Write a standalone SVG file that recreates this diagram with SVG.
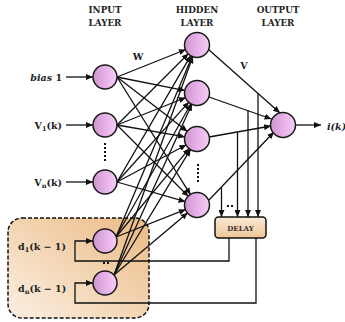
<svg xmlns="http://www.w3.org/2000/svg" width="345" height="322" viewBox="0 0 345 322">
  <defs>
    <linearGradient id="nodeFill" x1="0" y1="0" x2="1" y2="0">
      <stop offset="0" stop-color="#cf95d1"/>
      <stop offset="0.6" stop-color="#e9b6ea"/>
      <stop offset="1" stop-color="#f6cef6"/>
    </linearGradient>
    <linearGradient id="boxFill" x1="1" y1="0" x2="0" y2="1">
      <stop offset="0" stop-color="#ebbb85"/>
      <stop offset="0.5" stop-color="#f3d5b3"/>
      <stop offset="1" stop-color="#fbefe2"/>
    </linearGradient>
    <linearGradient id="delayFill" x1="0" y1="0" x2="0" y2="1">
      <stop offset="0" stop-color="#fae9d6"/>
      <stop offset="1" stop-color="#eec594"/>
    </linearGradient>
    <marker id="arrow" markerUnits="userSpaceOnUse" markerWidth="7" markerHeight="6" refX="7" refY="3" orient="auto">
      <path d="M0,0 L7,3 L0,6 z" fill="#111"/>
    </marker>
  </defs>
  <style>
    .node { fill: url(#nodeFill); stroke: #1a1a1a; stroke-width: 1.5; }
    .link { fill: none; stroke: #111; stroke-width: 1.3; marker-end: url(#arrow); }
    .head { font-family: "DejaVu Serif", "Liberation Serif", serif; font-weight: bold; font-size: 8.8px; fill: #222; text-anchor: middle; }
    .lbl { font-family: "DejaVu Serif", "Liberation Serif", serif; font-weight: bold; font-size: 9.5px; fill: #222; }
    .dot { fill: #111; }
  </style>

  <!-- feedback region -->
  <rect id="feedback-box" x="8" y="218" width="141" height="100" rx="14" fill="url(#boxFill)" stroke="#111" stroke-width="1.5" stroke-dasharray="4 2"/>

  <!-- layer headings -->
  <g id="headings">
    <text class="head" x="105" y="13">INPUT</text>
    <text class="head" x="105" y="26">LAYER</text>
    <text class="head" x="197" y="13">HIDDEN</text>
    <text class="head" x="197" y="26">LAYER</text>
    <text class="head" x="278" y="13">OUTPUT</text>
    <text class="head" x="278" y="26">LAYER</text>
    <text class="lbl" x="138" y="60" text-anchor="middle">W</text>
    <text class="lbl" x="244" y="69" text-anchor="middle">V</text>
  </g>

  <g id="connectors">
    <!-- external inputs -->
    <line class="link" x1="66" y1="77" x2="93" y2="77"/>
    <line class="link" x1="66" y1="125" x2="93" y2="125"/>
    <line class="link" x1="66" y1="182" x2="93" y2="182"/>

    <!-- input layer to hidden layer -->
    <line class="link" x1="117" y1="77" x2="185.9" y2="49.5"/>
    <line class="link" x1="117" y1="77" x2="185.2" y2="90.6"/>
    <line class="link" x1="117" y1="77" x2="187.5" y2="131.6"/>
    <line class="link" x1="117" y1="77" x2="190.6" y2="194.8"/>

    <line class="link" x1="117" y1="125" x2="188.5" y2="53.5"/>
    <line class="link" x1="117" y1="125" x2="185.9" y2="97.5"/>
    <line class="link" x1="117" y1="125" x2="185.2" y2="136.9"/>
    <line class="link" x1="117" y1="125" x2="188.5" y2="196.5"/>

    <line class="link" x1="117" y1="182" x2="190.9" y2="55.4"/>
    <line class="link" x1="117" y1="182" x2="189.0" y2="101.9"/>
    <line class="link" x1="117" y1="182" x2="186.4" y2="144.7"/>
    <line class="link" x1="117" y1="182" x2="185.5" y2="201.7"/>

    <line class="link" x1="116" y1="237" x2="192.3" y2="56.1"/>
    <line class="link" x1="116" y1="237" x2="191.1" y2="103.5"/>
    <line class="link" x1="116" y1="237" x2="189.4" y2="148.3"/>
    <line class="link" x1="116" y1="237" x2="185.8" y2="209.4"/>

    <line class="link" x1="114" y1="275" x2="192.9" y2="56.3"/>
    <line class="link" x1="114" y1="275" x2="192.0" y2="103.9"/>
    <line class="link" x1="114" y1="275" x2="190.7" y2="149.2"/>
    <line class="link" x1="114" y1="275" x2="187.8" y2="212.7"/>

    <!-- hidden layer to output -->
    <line class="link" x1="208" y1="49" x2="280" y2="113"/>
    <line class="link" x1="209" y1="97" x2="271.5" y2="119"/>
    <line class="link" x1="209" y1="137" x2="271" y2="126"/>
    <line class="link" x1="209" y1="200" x2="274" y2="132"/>

    <!-- output -->
    <line class="link" x1="296" y1="125" x2="321" y2="125"/>

    <!-- taps into delay -->
    <line class="link" x1="221.5" y1="187.5" x2="221.5" y2="217"/>
    <line class="link" x1="237.5" y1="132" x2="237.5" y2="217"/>
    <line class="link" x1="248" y1="110" x2="248" y2="217"/>
    <line class="link" x1="258" y1="93" x2="258" y2="217"/>

    <!-- delayed feedback -->
    <polyline class="link" points="229,238 229,261 75,261 75,241 93,241"/>
    <polyline class="link" points="256,238 256,303 75,303 75,283 93,283"/>
  </g>

  <!-- input layer -->
  <g id="in-bias"><circle class="node" cx="105" cy="77" r="12"/><text class="lbl" x="62" y="81" text-anchor="end"><tspan font-style="italic">bias</tspan> 1</text></g>
  <g id="in-v1"><circle class="node" cx="105" cy="125" r="12"/><text class="lbl" x="62" y="129" text-anchor="end">V<tspan font-size="6.5" dy="2">1</tspan><tspan dy="-2">(k)</tspan></text></g>
  <g id="in-vn"><circle class="node" cx="105" cy="182" r="12"/><text class="lbl" x="62" y="186" text-anchor="end">V<tspan font-size="6.5" dy="2">n</tspan><tspan dy="-2">(k)</tspan></text></g>
  <g id="in-d1"><circle class="node" cx="105" cy="241" r="12"/><text class="lbl" x="18" y="250">d<tspan font-size="6.5" dy="2">1</tspan><tspan dy="-2">(k − 1)</tspan></text></g>
  <g id="in-dn"><circle class="node" cx="105" cy="283" r="12"/><text class="lbl" x="18" y="292">d<tspan font-size="6.5" dy="2">n</tspan><tspan dy="-2">(k − 1)</tspan></text></g>

  <!-- hidden layer -->
  <g id="hid-1"><circle class="node" cx="197" cy="45" r="12.5"/></g>
  <g id="hid-2"><circle class="node" cx="197" cy="93" r="12.5"/></g>
  <g id="hid-3"><circle class="node" cx="197" cy="139" r="12.5"/></g>
  <g id="hid-m"><circle class="node" cx="197" cy="205" r="12.5"/></g>

  <!-- output layer -->
  <g id="out"><circle class="node" cx="283" cy="125" r="12.5"/><text class="lbl" x="327" y="129.5" font-style="italic" font-size="11.5">i(k)</text></g>

  <!-- delay unit -->
  <g id="delay">
    <rect x="215" y="217" width="51" height="21" rx="3.5" fill="url(#delayFill)" stroke="#111" stroke-width="1.5"/>
    <text x="240.5" y="230.5" text-anchor="middle" font-family="DejaVu Serif, serif" font-weight="bold" font-size="7px" fill="#333">DELAY</text>
  </g>

  <!-- ellipsis marks -->
  <g id="ellipses">
    <rect class="dot" x="104" y="143" width="2" height="2"/>
    <rect class="dot" x="104" y="147" width="2" height="2"/>
    <rect class="dot" x="104" y="151" width="2" height="2"/>
    <rect class="dot" x="104" y="155" width="2" height="2"/>
    <rect class="dot" x="104" y="159" width="2" height="2"/>
    <rect class="dot" x="197" y="164" width="2" height="2"/>
    <rect class="dot" x="197" y="168" width="2" height="2"/>
    <rect class="dot" x="197" y="172" width="2" height="2"/>
    <rect class="dot" x="197" y="176" width="2" height="2"/>
    <rect class="dot" x="197" y="180" width="2" height="2"/>
    <rect class="dot" x="227" y="205" width="2" height="2"/>
    <rect class="dot" x="231" y="205" width="2" height="2"/>
    <rect class="dot" x="103" y="262" width="2" height="2"/>
    <rect class="dot" x="107" y="262" width="2" height="2"/>
  </g>
</svg>
